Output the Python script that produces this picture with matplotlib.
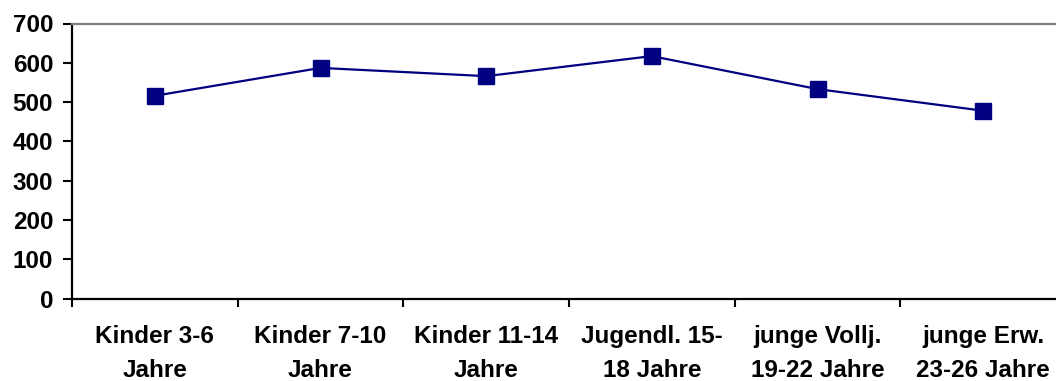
import numpy as np
import matplotlib.pyplot as plt
from matplotlib.ticker import FixedLocator, NullFormatter

plt.rcParams['font.family'] = ['Liberation Sans', 'DejaVu Sans']
plt.rcParams['font.weight'] = 'bold'

categories = ['Kinder 3-6\nJahre', 'Kinder 7-10\nJahre', 'Kinder 11-14\nJahre',
              'Jugendl. 15-\n18 Jahre', 'junge Vollj.\n19-22 Jahre', 'junge Erw.\n23-26 Jahre']
values = [516, 587, 566, 617, 533, 478]
y_ticks = [0, 100, 200, 300, 400, 500, 600, 700]

W, H = 1056, 381
fig = plt.figure(figsize=(W / 100, H / 100), dpi=100)
# plot area runs a little past the right edge of the canvas
ax = fig.add_axes([72 / W, (H - 298.5) / H, (1066 - 72) / W, 275 / H])

x = np.arange(len(values))
ax.plot(x, values, color='#000080', linewidth=1.6, marker='s', markersize=11,
        markerfacecolor='#000080', markeredgecolor='#000080')

ax.set_xlim(-0.5, len(values) - 0.5)
ax.set_ylim(0, 700)
ax.set_yticks(y_ticks)
ax.set_yticklabels([str(v) for v in y_ticks])

# boundaries get tick marks, centres get the labels
ax.xaxis.set_major_locator(FixedLocator(np.arange(-0.5, len(values) + 0.5, 1)))
ax.xaxis.set_major_formatter(NullFormatter())
ax.xaxis.set_minor_locator(FixedLocator(x))
ax.set_xticklabels(categories, minor=True)

ax.tick_params(axis='y', direction='out', length=6.5, width=1.5, pad=7,
               labelsize=17.5, colors='black')
ax.tick_params(axis='x', which='major', direction='out', length=6, width=1.5)
ax.tick_params(axis='x', which='minor', length=0, pad=19, labelsize=17.5)
for lbl in ax.get_xticklabels(minor=True):
    lbl.set_linespacing(1.62)

for side in ['left', 'bottom']:
    ax.spines[side].set_color('black')
    ax.spines[side].set_linewidth(1.6)
ax.spines['top'].set_color('#808080')
ax.spines['top'].set_linewidth(1.6)
ax.spines['right'].set_visible(False)

fig.savefig('out.png', dpi=100)
